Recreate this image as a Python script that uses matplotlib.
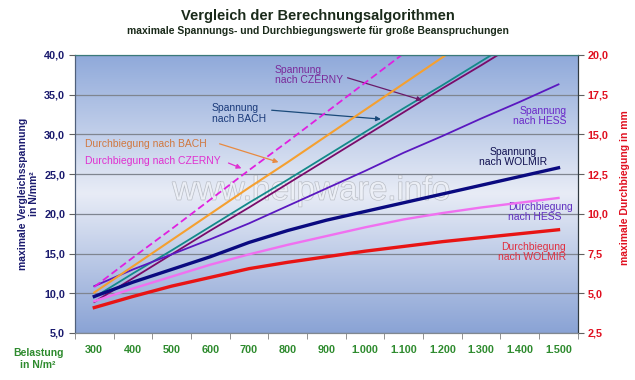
import numpy as np
import matplotlib
matplotlib.use('Agg')
import matplotlib.pyplot as plt
import matplotlib.patheffects as pe
from matplotlib.colors import LinearSegmentedColormap

plt.rcParams['font.family'] = ['Liberation Sans', 'DejaVu Sans']

# Belastung in N/m²
loads = [300, 400, 500, 600, 700, 800, 900, 1000, 1100, 1200, 1300, 1400, 1500]

# Spannung in N/mm² (left axis)
spannung_czerny = [8.9, 11.9, 14.9, 17.9, 20.8, 23.8, 26.8, 29.8, 32.8, 35.8, 38.7, 41.7, 44.7]
spannung_bach = [9.5, 12.5, 15.4, 18.4, 21.4, 24.3, 27.3, 30.3, 33.3, 36.2, 39.2, 42.2, 45.1]
spannung_hess = [10.9, 13.0, 14.9, 16.8, 18.8, 21.0, 23.2, 25.4, 27.7, 29.8, 32.0, 34.1, 36.3]
spannung_wolmir = [9.6, 11.4, 13.0, 14.6, 16.4, 17.9, 19.2, 20.3, 21.4, 22.5, 23.6, 24.7, 25.8]

# Durchbiegung in mm (right axis)
durchb_czerny = [5.4, 7.25, 9.05, 10.9, 12.75, 14.55, 16.4, 18.25, 20.1, 21.9, 23.75, 25.6, 27.4]
durchb_bach = [5.05, 6.7, 8.35, 10.0, 11.65, 13.25, 14.9, 16.55, 18.2, 19.85, 21.5, 23.15, 24.8]
durchb_hess = [4.5, 5.3, 6.05, 6.8, 7.45, 8.05, 8.6, 9.15, 9.65, 10.05, 10.4, 10.7, 11.0]
durchb_wolmir = [4.1, 4.8, 5.45, 6.0, 6.55, 6.95, 7.3, 7.65, 7.95, 8.25, 8.5, 8.75, 9.0]

x = np.arange(len(loads))

fig = plt.figure(figsize=(6.35, 3.8), dpi=100)
ax = fig.add_axes([0.118, 0.1237, 0.792, 0.7316])
ax2 = ax.twinx()

# gradient background
cmap = LinearSegmentedColormap.from_list('bg', [(0, '#8aa3d5'), (0.5, '#e8ecf6'), (1, '#8fa9da')])
grad = np.linspace(0, 1, 256).reshape(-1, 1)
ax.imshow(grad, extent=[0, 1, 0, 1], transform=ax.transAxes, aspect='auto',
          cmap=cmap, origin='lower', zorder=0)

ax.set_xlim(-0.5, len(loads) - 0.5)
ax.set_ylim(5, 40)
ax2.set_ylim(2.5, 20)

ax.plot(x, spannung_czerny, color='#7a0a6a', lw=1.3, zorder=3)
ax.plot(x, spannung_bach, color='#138a8a', lw=1.3, zorder=3)
ax.plot(x, spannung_hess, color='#5a18c0', lw=1.3, zorder=3)
ax.plot(x, spannung_wolmir, color='#0a0a80', lw=2.4, zorder=3)

ax2.plot(x, durchb_czerny, color='#e020e0', lw=1.3, ls=(0, (4, 2)))
ax2.plot(x, durchb_bach, color='#f5a030', lw=1.5)
ax2.plot(x, durchb_hess, color='#f070f0', lw=1.7)
ax2.plot(x, durchb_wolmir, color='#e81414', lw=2.4)

# grid + ticks
ax.set_yticks(np.arange(5, 41, 5))
ax.set_yticklabels([f'{v:.1f}'.replace('.', ',') for v in np.arange(5, 41, 5)])
ax.grid(axis='y', color='#7f8590', lw=0.9)
ax.set_axisbelow(True)
ax2.set_yticks(np.arange(2.5, 20.1, 2.5))
ax2.set_yticklabels([f'{v:.1f}'.replace('.', ',') for v in np.arange(2.5, 20.1, 2.5)])

ax.set_xticks(x)
ax.set_xticklabels([f'{v:,}'.replace(',', '.') for v in loads])
ax.set_xticks(np.arange(-0.5, len(loads), 1), minor=True)
ax.tick_params(axis='x', which='major', length=0, pad=9, labelsize=7.8, labelcolor='#2e8b2e')
ax.tick_params(axis='x', which='minor', length=4, color='#808080')
ax.tick_params(axis='y', length=4, color='#606060', labelsize=7.8, labelcolor='#1a1a6e', pad=3)
ax2.tick_params(axis='y', length=4, color='#606060', labelsize=7.8, labelcolor='#e01020', pad=3)
for lab in ax.get_xticklabels() + ax.get_yticklabels() + ax2.get_yticklabels():
    lab.set_fontweight('bold')

for a in (ax, ax2):
    a.spines['left'].set_color('#50607a')
    a.spines['right'].set_color('#303a40')
    a.spines['top'].set_color('#3a7a7a')
    a.spines['bottom'].set_color('#808890')

# axis labels
fig.text(0.045, 0.49, 'maximale Vergleichsspannung\nin N/mm²', rotation=90, ha='center', va='center',
         fontsize=7.5, fontweight='bold', color='#1a1a6e', linespacing=1.1)
fig.text(0.984, 0.505, 'maximale Durchbiegung in mm', rotation=90, ha='center', va='center',
         fontsize=7.5, fontweight='bold', color='#e01020')
fig.text(0.06, 0.055, 'Belastung\nin N/m²', ha='center', va='center', fontsize=7.5,
         fontweight='bold', color='#2e8b2e', linespacing=1.15)

# titles
fig.text(0.5, 0.958, 'Vergleich der Berechnungsalgorithmen', ha='center', va='center',
         fontsize=10.5, fontweight='bold', color='#1a2a1a')
fig.text(0.5, 0.918, 'maximale Spannungs- und Durchbiegungswerte für große Beanspruchungen',
         ha='center', va='center', fontsize=7.5, fontweight='bold', color='#1a2a1a')

# watermark
ax.text(0.47, 0.51, 'www.helpware.info', transform=ax.transAxes, ha='center', va='center',
        fontsize=24, color='#eef1f8', alpha=0.85, zorder=2,
        path_effects=[pe.withStroke(linewidth=0.9, foreground='#b0b4bc')])


def axf(px, py):
    return ((px - 75) / 503, (333 - py) / 278)


# labels with arrows
ax.text(*axf(275, 75), 'Spannung\nnach CZERNY', transform=ax.transAxes, ha='left', va='center',
        fontsize=7.5, color='#7a2a9a', linespacing=1.1, zorder=5)
ax.annotate('', xy=(8.54, 34.2), xytext=axf(345, 77), textcoords='axes fraction',
            arrowprops=dict(arrowstyle='-|>', color='#6a1a6a', lw=0.9, mutation_scale=7), zorder=5)

ax.text(*axf(212, 113.5), 'Spannung\nnach BACH', transform=ax.transAxes, ha='left', va='center',
        fontsize=7.5, color='#1a3a7a', linespacing=1.1, zorder=5)
ax.annotate('', xy=(7.48, 31.9), xytext=axf(269, 110), textcoords='axes fraction',
            arrowprops=dict(arrowstyle='-|>', color='#1a4a7a', lw=0.9, mutation_scale=7), zorder=5)

ax.text(*axf(85, 144), 'Durchbiegung nach BACH', transform=ax.transAxes, ha='left', va='center',
        fontsize=7.5, color='#d07840', zorder=5)
ax2.annotate('', xy=(4.83, 13.2), xytext=axf(217, 143), textcoords='axes fraction',
             arrowprops=dict(arrowstyle='-|>', color='#e88a40', lw=0.9, mutation_scale=7), zorder=5)

ax.text(*axf(85, 161.5), 'Durchbiegung nach CZERNY', transform=ax.transAxes, ha='left', va='center',
        fontsize=7.5, color='#e030d0', zorder=5)
ax2.annotate('', xy=(3.87, 12.8), xytext=axf(226, 162), textcoords='axes fraction',
             arrowprops=dict(arrowstyle='-|>', color='#e030d0', lw=0.9, mutation_scale=7), zorder=5)

ax.text(*axf(567, 116), 'Spannung\nnach HESS', transform=ax.transAxes, ha='right', va='center',
        fontsize=7.5, color='#6a28c8', linespacing=1.1, multialignment='right', zorder=5)
ax.text(*axf(513, 157), 'Spannung\nnach WOLMIR', transform=ax.transAxes, ha='center', va='center',
        fontsize=7.5, color='#101050', linespacing=1.1, zorder=5)
ax.text(*axf(508, 212), 'Durchbiegung\nnach HESS', transform=ax.transAxes, ha='left', va='center',
        fontsize=7.5, color='#6030c0', linespacing=1.1, zorder=5)
ax.text(*axf(566, 252), 'Durchbiegung\nnach WOLMIR', transform=ax.transAxes, ha='right', va='center',
        fontsize=7.5, color='#e03040', linespacing=1.1, multialignment='right', zorder=5)

fig.savefig('out.png', dpi=100, facecolor='white')
